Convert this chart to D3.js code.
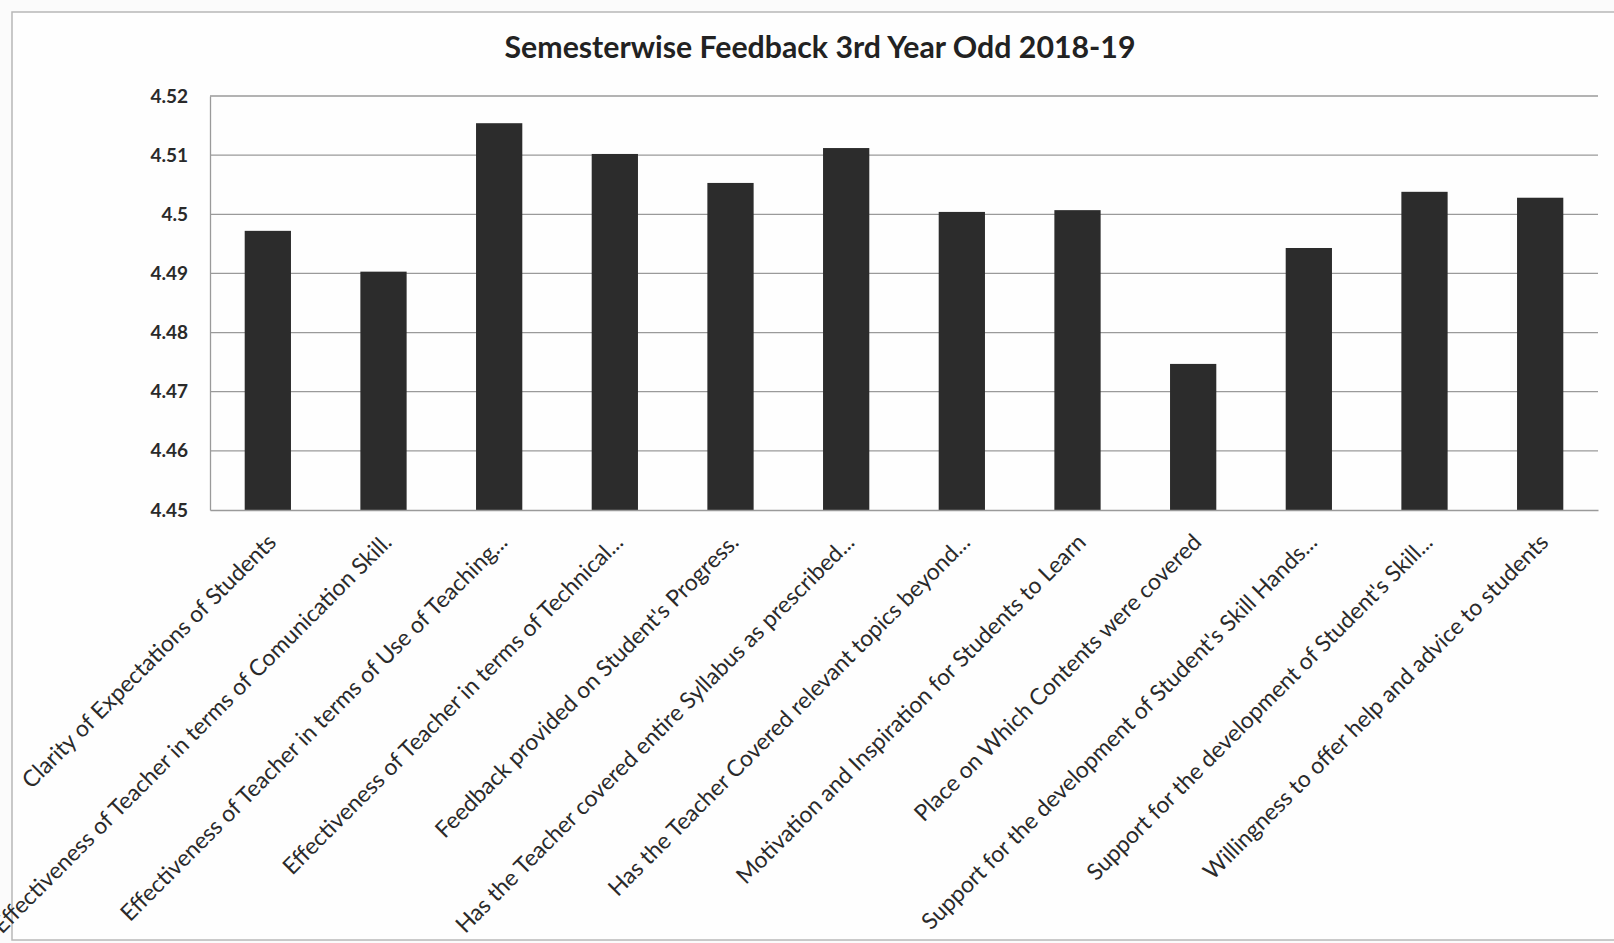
<!DOCTYPE html>
<html>
<head>
<meta charset="utf-8">
<script src="https://cdn.jsdelivr.net/npm/d3@7"></script>
<style>
  html, body { margin: 0; padding: 0; background: #fbfbfb; }
  svg { display: block; }
</style>
</head>
<body>
<svg id="chart" width="1614" height="943"></svg>
<script>
const title = "Semesterwise Feedback 3rd Year Odd 2018-19";
const categories = [
  "Clarity of Expectations of Students",
  "Effectiveness of Teacher in terms of Comunication Skill.",
  "Effectiveness of Teacher in terms of Use of Teaching...",
  "Effectiveness of Teacher in terms of Technical...",
  "Feedback provided on Student's Progress.",
  "Has the Teacher covered entire Syllabus as prescribed...",
  "Has the Teacher Covered relevant topics beyond...",
  "Motivation and Inspiration for Students to Learn",
  "Place on Which Contents were covered",
  "Support for the development of Student's Skill Hands...",
  "Support for the development of Student's Skill...",
  "Willingness to offer help and advice to students"
];
const values = [4.4972, 4.4903, 4.5154, 4.5102, 4.5053, 4.5112, 4.5004, 4.5007, 4.4747, 4.4943, 4.5038, 4.5028];
const yTicks = [4.45, 4.46, 4.47, 4.48, 4.49, 4.5, 4.51, 4.52];
const yTickLabels = ["4.45", "4.46", "4.47", "4.48", "4.49", "4.5", "4.51", "4.52"];

(function () {
const svg = d3.select("#chart");
const font = "Lato, 'Open Sans', 'DejaVu Sans', sans-serif";
const mLeft = 210, mRight = 1598, mTop = 96, mBottom = 510;

// outer frame
svg.append("rect").attr("x", 12).attr("y", 12).attr("width", 1640).attr("height", 928)
  .attr("fill", "#fefefe").attr("stroke", "#b8b8b8").attr("stroke-width", 1.5);

const x = d3.scaleBand().domain(categories).range([mLeft, mRight]).paddingInner(0.6).paddingOuter(0.3);
const y = d3.scaleLinear().domain([4.45, 4.52]).range([mBottom, mTop]);

// gridlines
svg.append("g").selectAll("line").data(yTicks.slice(1)).join("line")
  .attr("x1", mLeft).attr("x2", mRight)
  .attr("y1", d => y(d)).attr("y2", d => y(d))
  .attr("stroke", "#9a9a9a").attr("stroke-width", 1.3);

// y axis labels
const yAxis = d3.axisLeft(y).tickValues(yTicks).tickSize(0).tickPadding(22)
  .tickFormat((d, i) => yTickLabels[i]);
const gy = svg.append("g").attr("transform", `translate(${mLeft},0)`).call(yAxis);
gy.select(".domain").attr("stroke", "#9a9a9a").attr("stroke-width", 1.3);
gy.selectAll("text").attr("font-family", font).attr("font-size", 19).attr("font-weight", 700)
  .attr("fill", "#2a2a2a");

// bars
svg.append("g").selectAll("rect").data(values).join("rect")
  .attr("x", (d, i) => x(categories[i]))
  .attr("width", x.bandwidth())
  .attr("y", d => y(d))
  .attr("height", d => y(4.45) - y(d))
  .attr("fill", "#2c2c2c");

// x axis
const xAxis = d3.axisBottom(x).tickSize(0).tickFormat("");
const gx = svg.append("g").attr("transform", `translate(0,${mBottom})`).call(xAxis);
gx.select(".domain").attr("stroke", "#9a9a9a").attr("stroke-width", 1.3);

// category labels
const lab = svg.append("g").selectAll("text").data(categories).join("text")
  .attr("transform", d => `translate(${x(d) + x.bandwidth() / 2 + 4},${mBottom + 28}) rotate(-45)`)
  .attr("text-anchor", "end")
  .attr("dy", "0.35em")
  .attr("font-family", font)
  .attr("font-size", 19)
  .attr("fill", "#2a2a2a")
  .text(d => d);
const w0 = lab.nodes()[0].getComputedTextLength();
lab.attr("font-size", 19 * 348 / w0);

// title
const t = svg.append("text").attr("x", 820).attr("y", 58).attr("text-anchor", "middle")
  .attr("font-family", font).attr("font-weight", 700).attr("font-size", 24)
  .attr("fill", "#222").text(title);
const tw = t.node().getComputedTextLength();
t.attr("font-size", 24 * 631 / tw);
})();
</script>
</body>
</html>
